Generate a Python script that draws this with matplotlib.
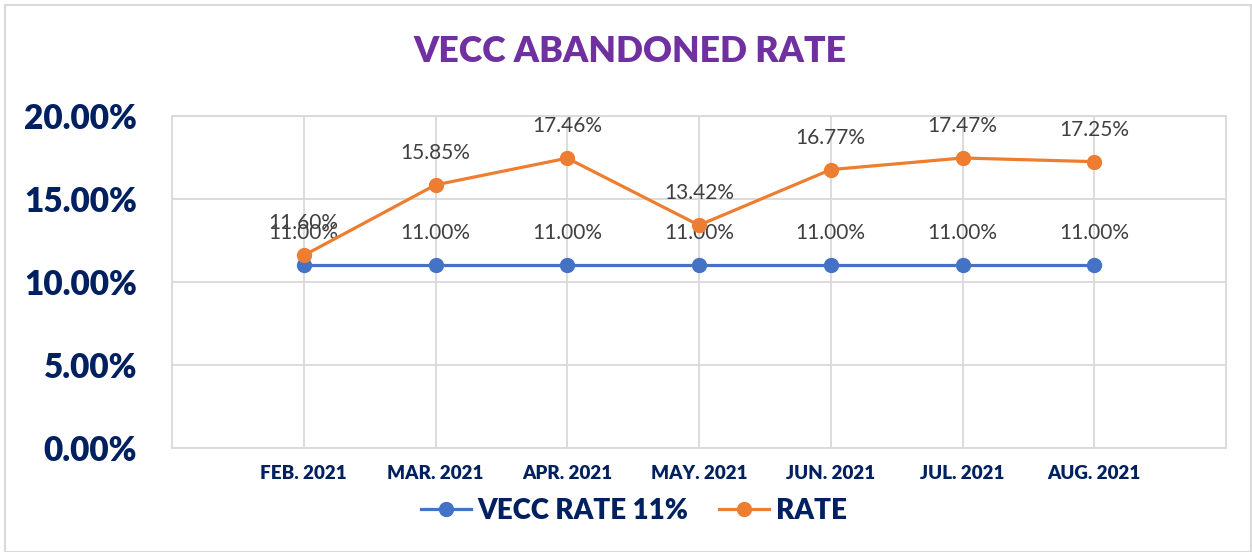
import numpy as np
import matplotlib.pyplot as plt
from matplotlib.ticker import FuncFormatter
from matplotlib.patches import Rectangle

months = ["FEB. 2021", "MAR. 2021", "APR. 2021", "MAY. 2021",
          "JUN. 2021", "JUL. 2021", "AUG. 2021"]
vecc_rate = [11.00, 11.00, 11.00, 11.00, 11.00, 11.00, 11.00]
rate = [11.60, 15.85, 17.46, 13.42, 16.77, 17.47, 17.25]

navy = "#002060"
blue = "#4472C4"
orange = "#ED7D31"
plt.rcParams['font.family'] = ['Lato', 'DejaVu Sans']

fig = plt.figure(figsize=(12.52, 5.52), dpi=100)
ax = fig.add_axes([172/1252, 1 - 448/552, (1226-172)/1252, (448-116)/552])

x = np.arange(len(months))
ax.plot(x, vecc_rate, color=blue, lw=2.3, marker='o', ms=10, label="VECC RATE 11%", zorder=3)
ax.plot(x, rate, color=orange, lw=2.3, marker='o', ms=10, label="RATE", zorder=4)

# data labels above every point
for xi, v in zip(x, vecc_rate):
    ax.annotate(f"{v:.2f}%", (xi, v), xytext=(0, 23), textcoords='offset points',
                ha='center', va='center', fontsize=15, color="#404040")
for xi, v in zip(x, rate):
    ax.annotate(f"{v:.2f}%", (xi, v), xytext=(0, 23), textcoords='offset points',
                ha='center', va='center', fontsize=15, color="#404040")

ax.set_xlim(-1, len(months))
ax.set_ylim(0, 20)
ax.set_yticks([0, 5, 10, 15, 20])
ax.yaxis.set_major_formatter(FuncFormatter(lambda v, p: f"{v:.2f}%"))
ax.set_xticks(x)
ax.set_xticklabels(months)
for t in ax.get_yticklabels():
    t.set_fontsize(24)
    t.set_fontweight('heavy')
    t.set_color(navy)
for t in ax.get_xticklabels():
    t.set_fontsize(13.5)
    t.set_fontweight('heavy')
    t.set_color(navy)
ax.tick_params(length=0)
ax.tick_params(axis='y', pad=25)
ax.tick_params(axis='x', pad=12)

ax.grid(True, color="#D9D9D9", lw=1.3)
ax.set_axisbelow(True)
for s in ax.spines.values():
    s.set_color("#D9D9D9")
    s.set_linewidth(1.3)

fig.text(630/1252, 1 - 52/552, "VECC ABANDONED RATE", ha='center', va='center',
         fontsize=25.7, fontweight='heavy', color="#7030A0")

leg = fig.legend(loc='center', bbox_to_anchor=(634/1252, 1 - 511/552), ncol=2,
                 frameon=False, fontsize=20, handlelength=1.8, columnspacing=1.1,
                 handletextpad=0.25)
for t in leg.get_texts():
    t.set_fontweight('heavy')
    t.set_color(navy)

fig.patches.append(Rectangle((5/1252, 0), 1246/1252, 1 - 5/552, transform=fig.transFigure,
                             fill=False, edgecolor="#D9D9D9", lw=1.5))

fig.savefig("out.png", dpi=100)
